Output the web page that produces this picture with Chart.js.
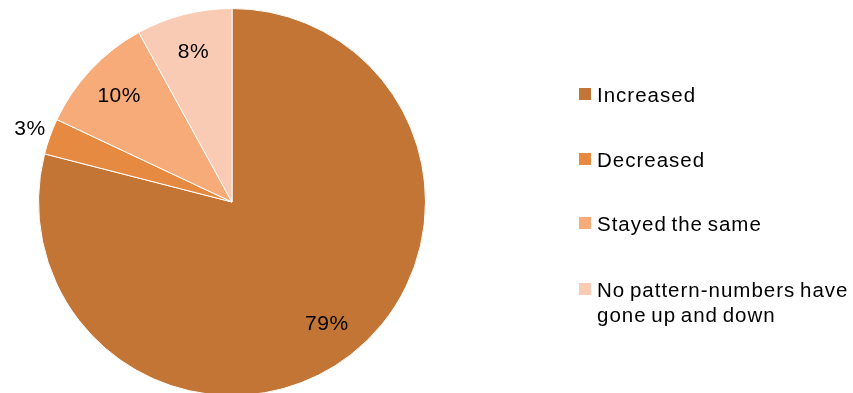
<!DOCTYPE html>
<html>
<head>
<meta charset="utf-8">
<script src="https://cdn.jsdelivr.net/npm/chart.js@4/dist/chart.umd.min.js"></script>
<style>
  html, body { margin: 0; padding: 0; background: #ffffff; }
  #wrap { position: relative; width: 853px; height: 393px; overflow: hidden; }
  #pie { position: absolute; left: 0; top: 0; }
  #legend { position: absolute; left: 579px; top: 0; font-family: "Liberation Sans", Arial, sans-serif; font-size: 20.5px; letter-spacing: 1px; word-spacing: -2px; color: #000; }
  .item { position: absolute; left: 0; white-space: nowrap; line-height: 25px; }
  .swatch { position: absolute; left: 0; width: 12px; height: 12px; }
  .text { position: absolute; left: 18px; top: 0; }
</style>
</head>
<body>
<div id="wrap">
  <canvas id="pie" width="853" height="400"></canvas>
  <div id="legend"></div>
</div>
<script>
// Survey response shares
const categories = ["Increased", "Decreased", "Stayed the same", "No pattern-numbers have gone up and down"];
const legendLines = [["Increased"], ["Decreased"], ["Stayed the same"], ["No pattern-numbers have", "gone up and down"]];
const shares = [79, 3, 10, 8];
const colors = ["#C37535", "#E68A42", "#F7AB79", "#F9CBB5"];

// Percentage labels: small slices sit just outside the rim
const sliceLabels = {
  id: "sliceLabels",
  afterDatasetsDraw(chart) {
    const ctx = chart.ctx;
    const meta = chart.getDatasetMeta(0);
    ctx.save();
    ctx.font = "21px 'Liberation Sans', Arial, sans-serif";
    ctx.letterSpacing = "0.5px";
    ctx.fillStyle = "#000";
    ctx.textAlign = "center";
    ctx.textBaseline = "middle";
    meta.data.forEach((arc, i) => {
      const p = arc.getProps(["x", "y", "startAngle", "endAngle", "outerRadius"], true);
      const mid = (p.startAngle + p.endAngle) / 2;
      const f = shares[i] < 5 ? 1.11 : 0.8;
      const r = p.outerRadius * f;
      ctx.fillText(shares[i] + "%", p.x + Math.cos(mid) * r, p.y + Math.sin(mid) * r);
    });
    ctx.restore();
  }
};

new Chart(document.getElementById("pie"), {
  type: "pie",
  data: {
    labels: categories,
    datasets: [{
      data: shares,
      backgroundColor: colors,
      borderColor: "#ffffff",
      borderWidth: 1
    }]
  },
  options: {
    responsive: false,
    animation: false,
    layout: { padding: { left: 38, right: 427, top: 8, bottom: 4 } },
    plugins: { legend: { display: false }, tooltip: { enabled: false } }
  },
  plugins: [sliceLabels]
});

// Legend to the right of the pie
const legend = document.getElementById("legend");
const rowCenters = [94, 159, 223, 289];
legendLines.forEach((lines, i) => {
  const item = document.createElement("div");
  item.className = "item";
  item.style.top = (rowCenters[i] - 12.5) + "px";
  const sw = document.createElement("div");
  sw.className = "swatch";
  sw.style.background = colors[i];
  sw.style.top = "6.5px";
  const tx = document.createElement("div");
  tx.className = "text";
  tx.innerHTML = lines.join("<br>");
  item.appendChild(sw);
  item.appendChild(tx);
  legend.appendChild(item);
});
</script>
</body>
</html>
